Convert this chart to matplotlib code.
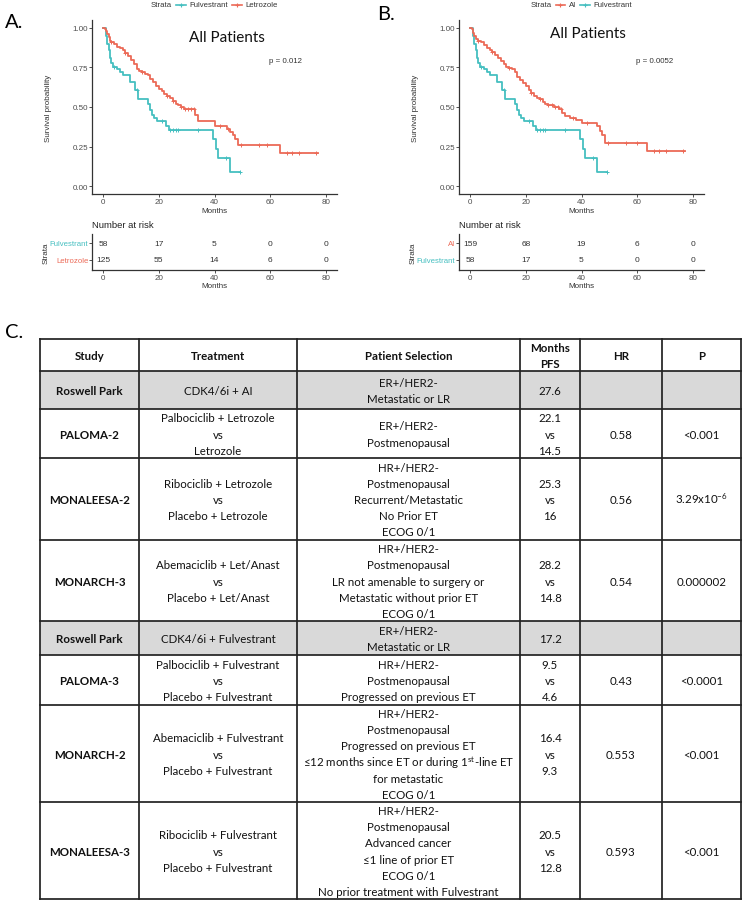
import numpy as np
import matplotlib
matplotlib.use("Agg")
import matplotlib.pyplot as plt
from matplotlib.patches import Rectangle

plt.rcParams['font.family'] = ['Liberation Sans', 'DejaVu Sans']
plt.rcParams['mathtext.fontset'] = 'custom'
plt.rcParams['mathtext.rm'] = 'Lato'
plt.rcParams['mathtext.it'] = 'Lato:italic'
plt.rcParams['mathtext.bf'] = 'Lato:bold'

# ---------------- data: Kaplan-Meier curves ----------------
letro_t = [0, 0.5, 1, 1.5, 2, 2.5, 3, 4, 5, 6, 7, 8, 9, 10, 11, 12, 13, 14, 15, 16, 17, 18, 19, 20, 21, 22,
           23, 24, 25, 26, 27, 28, 29, 33, 34, 40, 44.5, 45.5, 46.5, 47.5, 48.5, 63.5, 77]
letro_s = [1.0, 0.99, 0.98, 0.96, 0.94, 0.92, 0.91, 0.90, 0.88, 0.87, 0.86, 0.84, 0.82, 0.80, 0.77, 0.74, 0.73,
           0.72, 0.71, 0.70, 0.68, 0.655, 0.635, 0.615, 0.60, 0.58, 0.57, 0.56, 0.54, 0.52, 0.51, 0.50, 0.49,
           0.45, 0.41, 0.38, 0.36, 0.34, 0.32, 0.30, 0.26, 0.21, 0.21]
letro_cens = [3, 8, 14, 23, 25, 28, 29.5, 30.5, 31.5, 32.5, 42, 45, 49.5, 56, 59, 66, 68, 70.5, 76.5]

fulv_t = [0, 1, 1.5, 2, 2.5, 3, 3.5, 5, 6, 7, 9.5, 11.5, 12.5, 16, 16.7, 17.5, 18.3, 19.5, 22.5, 23.5,
          39.5, 40.5, 41.3, 45.5, 49.3]
fulv_s = [1.0, 0.95, 0.90, 0.86, 0.81, 0.78, 0.75, 0.74, 0.72, 0.70, 0.66, 0.61, 0.55, 0.52, 0.48, 0.45,
          0.43, 0.41, 0.38, 0.353, 0.30, 0.235, 0.176, 0.088, 0.088]
fulv_cens = [4, 12, 21, 24, 25, 26, 27, 34, 44, 49.3]

ai_t = [0, 0.5, 1, 1.5, 2, 3, 4, 5, 6, 7, 8, 9, 10, 11, 12, 13, 14, 15, 16, 17, 18, 19, 20, 21, 22, 23, 24,
        25, 26, 27, 28, 30, 32, 33, 34, 36, 38, 40, 45.5, 46.5, 47.5, 48.5, 63.5, 77]
ai_s = [1.0, 0.99, 0.97, 0.95, 0.93, 0.92, 0.91, 0.89, 0.87, 0.86, 0.85, 0.83, 0.81, 0.79, 0.77, 0.75, 0.745,
        0.74, 0.72, 0.69, 0.67, 0.65, 0.63, 0.61, 0.59, 0.57, 0.56, 0.55, 0.53, 0.52, 0.51, 0.50, 0.49, 0.46,
        0.44, 0.43, 0.42, 0.40, 0.38, 0.35, 0.32, 0.275, 0.22, 0.22]
ai_cens = [3, 8, 14, 22, 25, 28, 29.5, 30.5, 31.5, 32.5, 37, 42, 49.5, 56, 60, 66, 68, 70.5, 76.5]

risk_times = [0, 20, 40, 60, 80]
riskA_fulv = [58, 17, 5, 0, 0]
riskA_letro = [125, 55, 14, 6, 0]
riskB_ai = [159, 68, 19, 6, 0]
riskB_fulv = [58, 17, 5, 0, 0]

pval_A = "p = 0.012"
pval_B = "p = 0.0052"

# ---------------- data: table ----------------
header = ["Study", "Treatment", "Patient Selection", "Months\nPFS", "HR", "P"]
studies = ["Roswell Park", "PALOMA-2", "MONALEESA-2", "MONARCH-3", "Roswell Park", "PALOMA-3",
           "MONARCH-2", "MONALEESA-3"]
treatments = ["CDK4/6i + AI",
              "Palbociclib + Letrozole\nvs\nLetrozole",
              "Ribociclib + Letrozole\nvs\nPlacebo + Letrozole",
              "Abemaciclib + Let/Anast\nvs\nPlacebo + Let/Anast",
              "CDK4/6i + Fulvestrant",
              "Palbociclib + Fulvestrant\nvs\nPlacebo + Fulvestrant",
              "Abemaciclib + Fulvestrant\nvs\nPlacebo + Fulvestrant",
              "Ribociclib + Fulvestrant\nvs\nPlacebo + Fulvestrant"]
selections = ["ER+/HER2-\nMetastatic or LR",
              "ER+/HER2-\nPostmenopausal",
              "HR+/HER2-\nPostmenopausal\nRecurrent/Metastatic\nNo Prior ET\nECOG 0/1",
              "HR+/HER2-\nPostmenopausal\nLR not amenable to surgery or\nMetastatic without prior ET\nECOG 0/1",
              "ER+/HER2-\nMetastatic or LR",
              "HR+/HER2-\nPostmenopausal\nProgressed on previous ET",
              "HR+/HER2-\nPostmenopausal\nProgressed on previous ET\n"
              "\u226412 months since ET or during 1$^{\\mathrm{st}}$-line ET\nfor metastatic\nECOG 0/1",
              "HR+/HER2-\nPostmenopausal\nAdvanced cancer\n\u22641 line of prior ET\nECOG 0/1\n"
              "No prior treatment with Fulvestrant"]
pfs = ["27.6", "22.1\nvs\n14.5", "25.3\nvs\n16", "28.2\nvs\n14.8", "17.2", "9.5\nvs\n4.6",
       "16.4\nvs\n9.3", "20.5\nvs\n12.8"]
hrs = ["", "0.58", "0.56", "0.54", "", "0.43", "0.553", "0.593"]
pvals = ["", "<0.001", "3.29x10$^{-6}$", "0.000002", "", "<0.0001", "<0.001", "<0.001"]

# ---------------- style / layout ----------------
RED = '#EC6A57'
TEAL = '#45BFC0'
GREY_TXT = '#4D4D4D'
W, H = 744, 904
LATO = ['Lato', 'DejaVu Sans']

fig = plt.figure(figsize=(W / 100, H / 100), dpi=100)
bg = fig.add_axes([0, 0, 1, 1])
bg.set_xlim(0, W)
bg.set_ylim(H, 0)
bg.axis('off')
bg.set_zorder(-1)


def px_axes(x0, y0, x1, y1):
    return fig.add_axes([x0 / W, 1 - y1 / H, (x1 - x0) / W, (y1 - y0) / H])


def surv_at(t, times, surv):
    idx = np.searchsorted(np.asarray(times), np.asarray(t), side='right') - 1
    return np.asarray(surv)[idx]


def style_axes(ax):
    for s in ['top', 'right']:
        ax.spines[s].set_visible(False)
    for s in ['left', 'bottom']:
        ax.spines[s].set_linewidth(0.9)
        ax.spines[s].set_color('#333333')
    ax.tick_params(labelsize=5.8, labelcolor=GREY_TXT, color='#333333', length=2.0, width=0.6, pad=0.6)


renderer = fig.canvas.get_renderer()


def text_w(s, fs):
    t = bg.text(0, 0, s, fontsize=fs)
    w = t.get_window_extent(renderer).width
    t.remove()
    return w


def draw_legend(cx, cy, items, fs=5.6):
    seg, gap = 9.5, 4.0
    total = text_w("Strata", fs) + sum(gap + seg + gap + text_w(lab, fs) for lab, _ in items)
    x = cx - total / 2
    bg.text(x, cy, "Strata", fontsize=fs, ha='left', va='center', color='#333333')
    x += text_w("Strata", fs)
    for lab, col in items:
        x += gap
        bg.plot([x, x + seg], [cy, cy], color=col, lw=1.2)
        bg.plot([x + seg / 2], [cy], marker='+', ms=3.5, mew=0.8, color=col)
        x += seg + gap
        bg.text(x, cy, lab, fontsize=fs, ha='left', va='center', color='#333333')
        x += text_w(lab, fs)


def km_panel(x0, curves, legend_items, risk_rows, pval, letter, letter_xy, title_xy):
    ax = px_axes(x0, 21, x0 + 245, 195)
    for lab, col, t, s, c in curves:
        ax.step(t, s, where='post', color=col, lw=1.3)
        ax.plot(c, surv_at(c, t, s), ls='none', marker='+', ms=3.5, mew=0.7, color=col)
    ax.set_xlim(-4, 84)
    ax.set_ylim(-0.05, 1.05)
    ax.set_xticks(risk_times)
    ax.set_yticks([0, 0.25, 0.5, 0.75, 1.0])
    ax.set_yticklabels(['0.00', '0.25', '0.50', '0.75', '1.00'])
    style_axes(ax)
    ax.set_xlabel("Months", fontsize=5.8, color='#333333')
    ax.xaxis.set_label_coords(0.5, -0.076)
    ax.set_ylabel("Survival probability", fontsize=5.8, color='#333333')
    ax.yaxis.set_label_coords(-0.164, 0.5)
    ax.text(title_xy[0], title_xy[1], "All Patients", transform=ax.transAxes, ha='center', va='center',
            fontsize=11, family=LATO, color='#111111')
    ax.text(0.724, 0.77, pval, transform=ax.transAxes, ha='left', va='center', fontsize=5.7,
            color='#333333')
    bg.text(letter_xy[0], letter_xy[1], letter, fontsize=14.5, family=LATO, ha='left', va='center')
    draw_legend(x0 + 122.5, 5.5, legend_items)

    # risk table
    rx = px_axes(x0, 235, x0 + 245, 271)
    rx.set_xlim(-4, 84)
    rx.set_ylim(0.41, 2.53)
    ys = list(range(len(risk_rows), 0, -1))
    for (lab, col, vals), y in zip(risk_rows, ys):
        for t, v in zip(risk_times, vals):
            rx.text(t, y, str(v), ha='center', va='center', fontsize=6, color='#333333')
    rx.set_xticks(risk_times)
    rx.set_yticks(ys)
    rx.set_yticklabels([r[0] for r in risk_rows])
    style_axes(rx)
    for tl, r in zip(rx.get_yticklabels(), risk_rows):
        tl.set_color(r[1])
        tl.set_fontsize(5.6)
    rx.set_xlabel("Months", fontsize=5.8, color='#333333')
    rx.xaxis.set_label_coords(0.5, -0.33)
    rx.set_ylabel("Strata", fontsize=5.8, color='#333333')
    rx.yaxis.set_label_coords(-0.171, 0.5)
    rx.text(0, (271 - 226) / 36, "Number at risk", transform=rx.transAxes, ha='left', va='center',
            fontsize=6.8, color='#222222')


km_panel(92,
         [("Fulvestrant", TEAL, fulv_t, fulv_s, fulv_cens), ("Letrozole", RED, letro_t, letro_s, letro_cens)],
         [("Fulvestrant", TEAL), ("Letrozole", RED)],
         [("Fulvestrant", TEAL, riskA_fulv), ("Letrozole", RED, riskA_letro)],
         pval_A, "A.", (5, 22), (0.55, 0.90))

km_panel(459,
         [("Fulvestrant", TEAL, fulv_t, fulv_s, fulv_cens), ("AI", RED, ai_t, ai_s, ai_cens)],
         [("AI", RED), ("Fulvestrant", TEAL)],
         [("AI", RED, riskB_ai), ("Fulvestrant", TEAL, riskB_fulv)],
         pval_B, "B.", (377, 14.5), (0.527, 0.925))

# ---------------- table C ----------------
bg.text(5, 333, "C.", fontsize=14.5, family=LATO, ha='left', va='center')
col_x = [40, 139, 297, 520, 580, 662, 741]
row_y = [340, 372, 410, 459, 541, 622, 656, 706, 803, 900]
PITCH = 16.2
FS = 8.3

for i, st in enumerate(studies):
    if st == "Roswell Park":
        bg.add_patch(Rectangle((col_x[0], row_y[i + 1]), col_x[-1] - col_x[0], row_y[i + 2] - row_y[i + 1],
                               facecolor='#D9D9D9', edgecolor='none', zorder=0))
for y in row_y:
    bg.plot([col_x[0], col_x[-1]], [y, y], color='#222222', lw=1.25, zorder=2, solid_capstyle='projecting')
for x in col_x:
    bg.plot([x, x], [row_y[0], row_y[-1]], color='#222222', lw=1.25, zorder=2, solid_capstyle='projecting')


def cell(text, c, r, bold=False):
    xc = (col_x[c] + col_x[c + 1]) / 2
    yc = (row_y[r] + row_y[r + 1]) / 2
    lines = text.split('\n')
    n = len(lines)
    for i, ln in enumerate(lines):
        if not ln:
            continue
        y = yc + (i - (n - 1) / 2) * PITCH + 4.1
        bg.text(xc, y, ln, ha='center', va='baseline', fontsize=FS, family=LATO,
                fontweight='bold' if bold else 'normal', color='#111111', zorder=3)


for c, h in enumerate(header):
    cell(h, c, 0, bold=True)
for r in range(len(studies)):
    cell(studies[r], 0, r + 1, bold=True)
    cell(treatments[r], 1, r + 1)
    cell(selections[r], 2, r + 1)
    cell(pfs[r], 3, r + 1)
    cell(hrs[r], 4, r + 1)
    cell(pvals[r], 5, r + 1)

fig.savefig("out.png", dpi=100)
